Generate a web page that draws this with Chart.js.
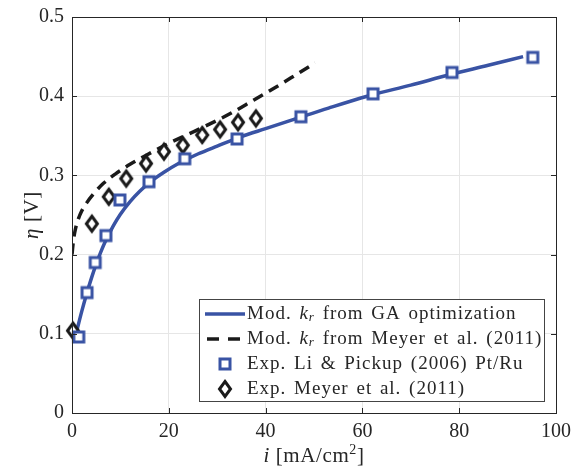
<!DOCTYPE html>
<html>
<head>
<meta charset="utf-8">
<script src="https://cdn.jsdelivr.net/npm/chart.js@4.4.0/dist/chart.umd.min.js"></script>
<style>
  body { margin: 0; background: #fff; }
  canvas { display: block; }
</style>
</head>
<body>
<canvas id="etaChart" width="574" height="470"></canvas>
<script>
// experimental points
const liCurrent = [1.4, 3.1, 4.8, 7.0, 9.9, 15.9, 23.3, 34.1, 47.3, 62.2, 78.5, 95.2];
const liEta = [0.096, 0.152, 0.190, 0.224, 0.269, 0.292, 0.321, 0.346, 0.374, 0.403, 0.430, 0.449];
const meyerCurrent = [0.2, 4.1, 7.6, 11.2, 15.3, 19.0, 22.9, 26.9, 30.6, 34.3, 38.0];
const meyerEta = [0.104, 0.239, 0.273, 0.296, 0.315, 0.330, 0.338, 0.351, 0.358, 0.367, 0.372];

// model curves
const gaCurrent = [0.4, 1, 2, 3, 4, 5, 6, 7, 8.5, 10, 12, 14, 16, 19, 22, 26, 30, 35, 40, 46, 53, 61, 70, 78, 86, 93.2];
const gaEta = [0.090, 0.104, 0.128, 0.150, 0.170, 0.188, 0.204, 0.218, 0.236, 0.251, 0.267, 0.280, 0.291, 0.304, 0.315, 0.327, 0.337, 0.349, 0.359, 0.371, 0.385, 0.400, 0.414, 0.427, 0.439, 0.450];
const meyerModCurrent = [0, 0.3, 0.7, 1.2, 2, 3, 4.5, 6.5, 9, 12, 15.5, 19.5, 24, 28.5, 33, 37.5, 42, 46, 50.2];
const meyerModEta = [0.200, 0.218, 0.232, 0.243, 0.255, 0.265, 0.277, 0.290, 0.302, 0.314, 0.326, 0.339, 0.352, 0.365, 0.379, 0.395, 0.411, 0.426, 0.442];

const xTicks = [0, 20, 40, 60, 80, 100];
const yTicks = [0, 0.1, 0.2, 0.3, 0.4, 0.5];
const legendLabels = [
  ['Mod. ', 'k', 'r', ' from GA optimization'],
  ['Mod. ', 'k', 'r', ' from Meyer et al. (2011)'],
  ['Exp. Li & Pickup (2006) Pt/Ru'],
  ['Exp. Meyer et al. (2011)']
];
// [italic, upright, superscript, upright]
const xTitle = ['i', ' [mA/cm', '2', ']'];
const yTitle = ['η', ' [V]'];

const BLUE = '#3953a4';
const DARK = '#1a1a1a';
const AXIS = '#262626';
const SERIF = "'Liberation Serif', 'Times New Roman', serif";

function toXY(xs, ys) {
  return xs.map((x, i) => ({ x: x, y: ys[i] }));
}

function squareMarker() {
  const c = document.createElement('canvas');
  c.width = 16; c.height = 16;
  const g = c.getContext('2d');
  g.fillStyle = '#fff';
  g.fillRect(3, 3, 10, 10);
  g.strokeStyle = BLUE;
  g.lineWidth = 3;
  g.strokeRect(3, 3, 10, 10);
  return c;
}

function diamondMarker() {
  const c = document.createElement('canvas');
  c.width = 18; c.height = 22;
  const g = c.getContext('2d');
  g.beginPath();
  g.moveTo(9, 3.5);
  g.lineTo(14.5, 11);
  g.lineTo(9, 18.5);
  g.lineTo(3.5, 11);
  g.closePath();
  g.fillStyle = '#fff';
  g.fill();
  g.strokeStyle = DARK;
  g.lineWidth = 3;
  g.lineJoin = 'miter';
  g.stroke();
  return c;
}

const sqImg = squareMarker();
const diaImg = diamondMarker();

// draws runs of text with mixed styles, returns total width
function drawRuns(ctx, runs, x, y, measureOnly) {
  let w = 0;
  runs.forEach(r => {
    ctx.font = r.font;
    if (!measureOnly) ctx.fillText(r.t, x + w, y + (r.dy || 0));
    w += ctx.measureText(r.t).width;
  });
  return w;
}

// box round the axes + inward ticks, like matlab
const boxPlugin = {
  id: 'box',
  afterDatasetsDraw(chart) {
    const { ctx, chartArea: a, scales } = chart;
    ctx.save();
    ctx.strokeStyle = AXIS;
    ctx.lineWidth = 1;
    ctx.beginPath();
    xTicks.forEach(v => {
      const px = Math.round(scales.x.getPixelForValue(v)) + 0.5;
      ctx.moveTo(px, a.bottom); ctx.lineTo(px, a.bottom - 5);
      ctx.moveTo(px, a.top); ctx.lineTo(px, a.top + 5);
    });
    yTicks.forEach(v => {
      const py = Math.round(scales.y.getPixelForValue(v)) + 0.5;
      ctx.moveTo(a.left, py); ctx.lineTo(a.left + 5, py);
      ctx.moveTo(a.right, py); ctx.lineTo(a.right - 5, py);
    });
    ctx.stroke();
    ctx.strokeRect(Math.round(a.left) + 0.5, Math.round(a.top) + 0.5,
      Math.round(a.right - a.left), Math.round(a.bottom - a.top));
    ctx.restore();
  }
};

const titlePlugin = {
  id: 'axisTitles',
  afterDraw(chart) {
    const { ctx, chartArea: a } = chart;
    ctx.save();
    ctx.fillStyle = AXIS;
    ctx.textBaseline = 'alphabetic';
    const xr = [
      { t: xTitle[0], font: 'italic 21px ' + SERIF },
      { t: xTitle[1], font: '21px ' + SERIF },
      { t: xTitle[2], font: '14px ' + SERIF, dy: -8 },
      { t: xTitle[3], font: '21px ' + SERIF }
    ];
    ctx.letterSpacing = '0.6px';
    const xw = drawRuns(ctx, xr, 0, 0, true);
    drawRuns(ctx, xr, (a.left + a.right) / 2 - xw / 2, 462);
    const yr = [
      { t: yTitle[0], font: 'italic 21px ' + SERIF },
      { t: yTitle[1], font: '21px ' + SERIF }
    ];
    const yw = drawRuns(ctx, yr, 0, 0, true);
    ctx.translate(38, (a.top + a.bottom) / 2);
    ctx.rotate(-Math.PI / 2);
    drawRuns(ctx, yr, -yw / 2, 0);
    ctx.restore();
  }
};

const legendPlugin = {
  id: 'boxLegend',
  afterDraw(chart) {
    const { ctx, chartArea: a } = chart;
    const right = a.right - 12, bottom = a.bottom - 12;
    const left = 199, top = bottom - 102;
    ctx.save();
    ctx.fillStyle = '#fff';
    ctx.fillRect(left, top, right - left, bottom - top);
    ctx.strokeStyle = '#444';
    ctx.lineWidth = 1;
    ctx.strokeRect(left + 0.5, top + 0.5, right - left, bottom - top);

    const rows = [top + 15, top + 40, top + 65, top + 90];
    // samples
    ctx.lineWidth = 3.5;
    ctx.strokeStyle = BLUE;
    ctx.beginPath(); ctx.moveTo(205, rows[0]); ctx.lineTo(245, rows[0]); ctx.stroke();
    ctx.strokeStyle = DARK;
    ctx.setLineDash([12, 9]);
    ctx.beginPath(); ctx.moveTo(207, rows[1]); ctx.lineTo(245, rows[1]); ctx.stroke();
    ctx.setLineDash([]);
    ctx.drawImage(sqImg, 225 - 8, rows[2] - 8);
    ctx.drawImage(diaImg, 225 - 9, rows[3] - 11);

    ctx.fillStyle = AXIS;
    ctx.textBaseline = 'middle';
    ctx.letterSpacing = '1px';
    ctx.wordSpacing = '2px';
    legendLabels.forEach((parts, i) => {
      const runs = parts.map((t, j) => {
        if (parts.length > 1 && j === 1) return { t: t, font: 'italic 19px ' + SERIF };
        if (parts.length > 1 && j === 2) return { t: t, font: 'italic 13px ' + SERIF, dy: 4 };
        return { t: t, font: '19px ' + SERIF };
      });
      drawRuns(ctx, runs, 247, rows[i]);
    });
    ctx.restore();
  }
};

new Chart(document.getElementById('etaChart'), {
  type: 'scatter',
  data: {
    datasets: [
      {
        label: 'Exp. Li & Pickup (2006) Pt/Ru',
        data: toXY(liCurrent, liEta),
        pointStyle: sqImg,
        showLine: false,
        clip: false,
        order: 0
      },
      {
        label: 'Exp. Meyer et al. (2011)',
        data: toXY(meyerCurrent, meyerEta),
        pointStyle: diaImg,
        showLine: false,
        clip: false,
        order: 0
      },
      {
        label: 'Mod. kr from GA optimization',
        data: toXY(gaCurrent, gaEta),
        showLine: true,
        borderColor: BLUE,
        borderWidth: 3.5,
        pointRadius: 0,
        cubicInterpolationMode: 'monotone',
        order: 1
      },
      {
        label: 'Mod. kr from Meyer et al. (2011)',
        data: toXY(meyerModCurrent, meyerModEta),
        showLine: true,
        borderColor: DARK,
        borderWidth: 3.5,
        borderDash: [11, 7],
        pointRadius: 0,
        cubicInterpolationMode: 'monotone',
        order: 2
      }
    ]
  },
  options: {
    responsive: false,
    animation: false,
    layout: { padding: { top: 17, right: 18, left: 0, bottom: 0 } },
    plugins: { legend: { display: false }, tooltip: { enabled: false } },
    scales: {
      x: {
        type: 'linear',
        min: 0, max: 100,
        afterBuildTicks: s => { s.ticks = xTicks.map(v => ({ value: v })); },
        afterFit: s => { s.height = 57; s.paddingLeft = 0; s.paddingRight = 0; },
        grid: { color: '#e6e6e6', drawTicks: false },
        border: { display: false },
        ticks: {
          padding: 7,
          color: AXIS,
          font: { family: SERIF, size: 20 }
        }
      },
      y: {
        type: 'linear',
        min: 0, max: 0.5,
        afterBuildTicks: s => { s.ticks = yTicks.map(v => ({ value: v })); },
        afterFit: s => { s.width = 72; s.paddingTop = 0; s.paddingBottom = 0; },
        grid: { color: '#e6e6e6', drawTicks: false },
        border: { display: false },
        ticks: {
          padding: 8,
          color: AXIS,
          font: { family: SERIF, size: 20 },
          callback: v => String(v)
        }
      }
    }
  },
  plugins: [boxPlugin, titlePlugin, legendPlugin]
});
</script>
</body>
</html>
